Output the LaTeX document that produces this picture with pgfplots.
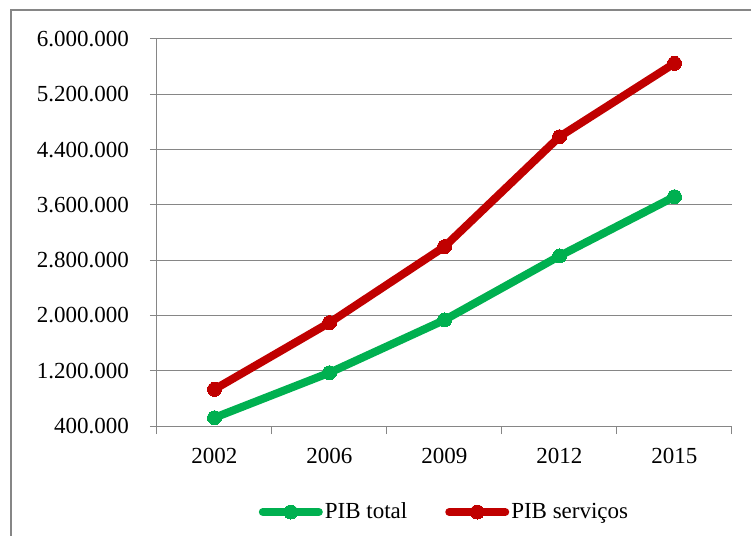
\documentclass[border=0pt]{standalone}
\usepackage{pgfplots}
\pgfplotsset{compat=1.18}
\usepackage{fontspec}
\setmainfont{Liberation Serif}
\definecolor{pibgreen}{HTML}{00B050}
\definecolor{pibred}{HTML}{C00000}
\definecolor{gridgray}{HTML}{868686}
\begin{document}
\begin{tikzpicture}
\useasboundingbox (-78.5pt,-55pt) rectangle (297pt,213pt);
\draw[gridgray,line width=0.6pt] (-73pt,-80pt) rectangle (320pt,208pt);
\begin{axis}[
  at={(0pt,0pt)}, anchor=south west,
  scale only axis, width=287.5pt, height=193.5pt,
  font=\fontsize{11.5}{13}\selectfont,
  /pgf/number format/assume math mode=true,
  xmin=-0.5, xmax=4.5, ymin=400000, ymax=6000000,
  scaled y ticks=false,
  xtick={0,1,2,3,4},
  xticklabels={2002,2006,2009,2012,2015},
  minor xtick={-0.5,0.5,1.5,2.5,3.5,4.5},
  major x tick style={draw=none},
  minor tick length=4pt,
  ytick={400000,1200000,2000000,2800000,3600000,4400000,5200000,6000000},
  yticklabels={400.000,1.200.000,2.000.000,2.800.000,3.600.000,4.400.000,5.200.000,6.000.000},
  major tick length=3.5pt,
  tick align=outside,
  axis x line*=bottom, axis y line*=left,
  axis line style={gridgray,line width=0.5pt},
  tick style={gridgray,line width=0.5pt},
  ymajorgrids, grid style={gridgray,line width=0.5pt},
  xticklabel style={yshift=-4pt},
  yticklabel style={xshift=-7pt},
  legend columns=2,
  legend style={at={(0.5,0)}, anchor=center, yshift=-43pt, draw=none, fill=none,
    font=\fontsize{11.5}{13}\selectfont,
    nodes={inner xsep=1pt},
    /tikz/every even column/.append style={column sep=18pt}},
  legend image code/.code={\draw[#1,line cap=round,mark repeat=2,mark phase=2] plot coordinates {(0pt,0pt) (14pt,0pt) (28pt,0pt)};},
  clip=false,
]
\addplot[pibgreen, line width=4pt, line join=round, line cap=round, mark=*, mark size=3.5pt, mark options={line width=0pt}]
  coordinates {(0,520000) (1,1171000) (2,1934000) (3,2860000) (4,3718000)};
\addlegendentry{PIB total}
\addplot[pibred, line width=4pt, line join=round, line cap=round, mark=*, mark size=3.5pt, mark options={line width=0pt}]
  coordinates {(0,931000) (1,1895000) (2,2995000) (3,4586000) (4,5648000)};
\addlegendentry{PIB serviços}
\end{axis}
\end{tikzpicture}
\end{document}
